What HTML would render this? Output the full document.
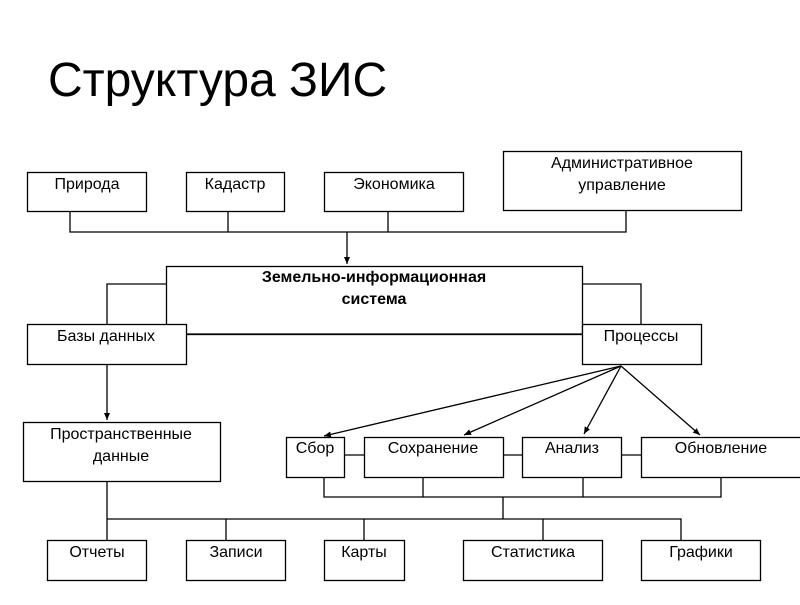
<!DOCTYPE html>
<html><head><meta charset="utf-8"><style>
body{margin:0;width:800px;height:600px;background:#fff;overflow:hidden}
</style></head><body>
<svg width="800" height="600" xmlns="http://www.w3.org/2000/svg" font-family="Liberation Sans, DejaVu Sans, sans-serif">
<defs><marker id="a" markerWidth="8" markerHeight="8" refX="7" refY="3" orient="auto" markerUnits="userSpaceOnUse"><path d="M0,0 L7,3 L0,6z" fill="#000"/></marker></defs>
<text x="48" y="96" font-size="48">Структура ЗИС</text>
<g fill="none" stroke="#000" stroke-width="1.3">
<rect x="27.5" y="172.5" width="119" height="39"/>
<rect x="186.5" y="172.5" width="98" height="39"/>
<rect x="324.5" y="172.5" width="139" height="39"/>
<rect x="503.5" y="151.5" width="238" height="59"/>
<path d="M70 211V232H626V210M228 211V232M388 211V232"/>
<path d="M347 232V264" marker-end="url(#a)"/>
<rect x="166.5" y="266.5" width="416" height="68"/>
<path d="M166 284H107V324M582 284H641V324M186 334H582"/>
<rect x="27.5" y="324.5" width="159" height="40" fill="#fff"/>
<rect x="582.5" y="324.5" width="119" height="40" fill="#fff"/>
<path d="M107 364V420" marker-end="url(#a)"/>
<rect x="23.5" y="422.5" width="197" height="59"/>
<path d="M621 366L324 436" marker-end="url(#a)"/>
<path d="M621 366L464 435" marker-end="url(#a)"/>
<path d="M621 366L584 434" marker-end="url(#a)"/>
<path d="M621 366L700 435" marker-end="url(#a)"/>
<rect x="286.5" y="437.5" width="58" height="40"/>
<rect x="364.5" y="437.5" width="139" height="40"/>
<rect x="522.5" y="437.5" width="99" height="40"/>
<rect x="641.5" y="437.5" width="165" height="40"/>
<path d="M344 455H364M503 455H522M621 455H641"/>
<path d="M324 477V497H721V477M423 477V497M583 477V497M503 497V519"/>
<path d="M107 481V540M107 519H681V540M226 519V540M364 519V540M543 519V540"/>
<rect x="47.5" y="540.5" width="99" height="40"/>
<rect x="186.5" y="540.5" width="99" height="40"/>
<rect x="324.5" y="540.5" width="80" height="40"/>
<rect x="463.5" y="540.5" width="139" height="40"/>
<rect x="641.5" y="540.5" width="119" height="40"/>
</g>
<g font-size="16" text-anchor="middle" fill="#000">
<text x="87" y="189">Природа</text>
<text x="235" y="189">Кадастр</text>
<text x="394" y="189">Экономика</text>
<text x="622" y="168">Административное</text>
<text x="622" y="190">управление</text>
<text x="374" y="282" font-weight="bold">Земельно-информационная</text>
<text x="374" y="304" font-weight="bold">система</text>
<text x="106" y="341">Базы данных</text>
<text x="641" y="341">Процессы</text>
<text x="121" y="439">Пространственные</text>
<text x="121" y="461">данные</text>
<text x="315" y="453">Сбор</text>
<text x="433" y="453">Сохранение</text>
<text x="572" y="453">Анализ</text>
<text x="721" y="453">Обновление</text>
<text x="97" y="557">Отчеты</text>
<text x="236" y="557">Записи</text>
<text x="364" y="557">Карты</text>
<text x="533" y="557">Статистика</text>
<text x="701" y="557">Графики</text>
</g>
</svg>
</body></html>
